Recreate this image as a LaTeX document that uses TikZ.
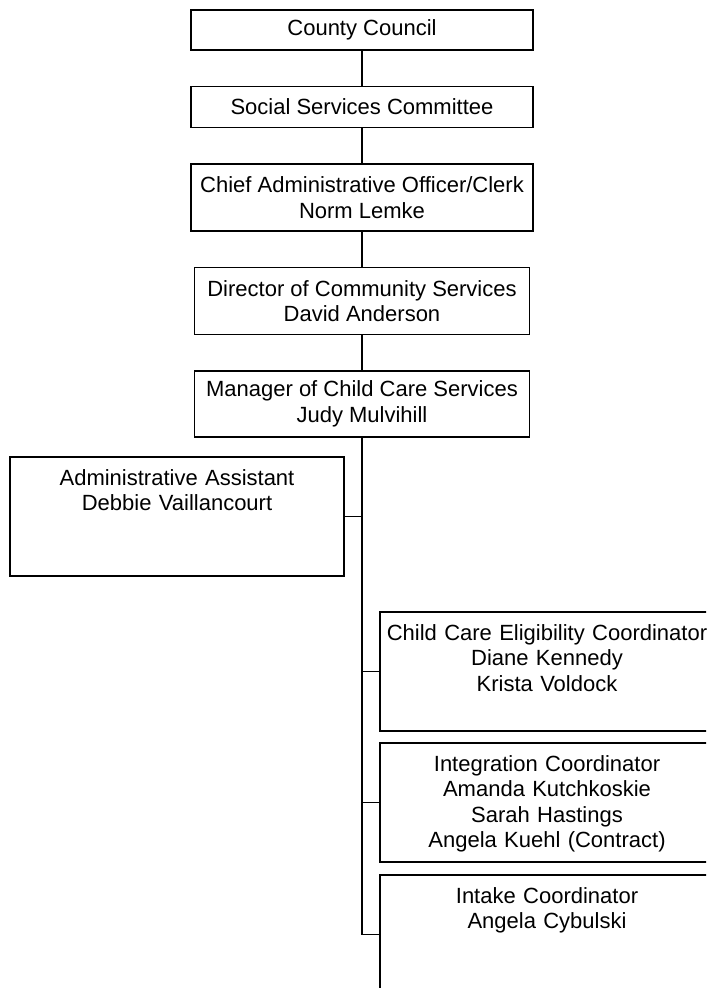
\documentclass[tikz,border=0pt]{standalone}
\usepackage{fontspec}
\setmainfont{Liberation Sans}
\usetikzlibrary{positioning}

\begin{document}
\begin{tikzpicture}[x=1pt,y=1pt,line width=0.65pt,
		node distance=18.25pt,
		post/.style={rectangle,draw,inner sep=0pt,outer sep=0pt,align=center,
			font=\fontsize{11}{12.75}\selectfont},
		staff/.style={rectangle,draw,inner sep=0pt,outer sep=0pt,text width=167pt,align=center,
			text height=14pt,text depth=45.5pt,font=\fontsize{11}{12.75}\selectfont}]
%% Draw organisation chart
   \useasboundingbox (0,0) rectangle (353,-494);
   \clip (0,0) rectangle (353,-494);
   \node [post,minimum width=171pt,minimum height=20pt] (cc) at (181,-15) {County Council};
   \node [post,minimum width=171pt,minimum height=20.5pt] (ssc) [below=of cc] {Social Services Committee} edge [-] (cc);
   \node [post,minimum width=171pt,minimum height=33.5pt] (cao) [below=of ssc] {Chief Administrative Officer/Clerk\\Norm Lemke} edge [-] (ssc);
   \node [post,minimum width=167.5pt,minimum height=33.5pt] (dcs) [below=of cao] {Director of Community Services\\David Anderson} edge [-] (cao);
   \node [post,minimum width=167.5pt,minimum height=33pt] (mgr) [below=of dcs] {Manager of Child Care Services\\Judy Mulvihill} edge [-] (dcs);
   \node [staff] (admin) [below=10pt of mgr,xshift=-92.5pt] {Administrative Assistant\\Debbie Vaillancourt} edge [-] (mgr.south |- admin.east);
   \node [staff] (cce) [below=18pt of admin,xshift=185pt] {Child Care Eligibility Coordinator\\Diane Kennedy\\Krista Voldock} edge [-] (mgr.south |- cce.west);
   \node [staff] (ic) [below=6pt of cce] {Integration Coordinator\\Amanda Kutchkoskie\\Sarah Hastings\\Angela Kuehl (Contract)} edge [-] (mgr.south |- ic.west);
   \node [staff] (intake) [below=6.5pt of ic] {Intake Coordinator\\Angela Cybulski} edge [-] (mgr.south |- intake.west);
   \coordinate (trunk) at (mgr.south |- intake.west);
   \draw (mgr) -- (trunk);
\end{tikzpicture}
\end{document}
